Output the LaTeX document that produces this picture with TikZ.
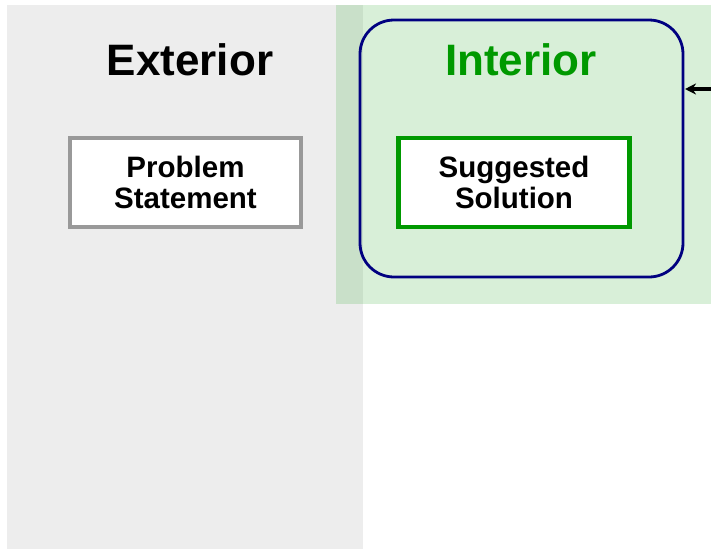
\documentclass[tikz,border=0pt]{standalone}
\usepackage{fontspec}
\setmainfont{Liberation Sans}
\usetikzlibrary{arrows.meta}
\definecolor{extgray}{RGB}{237,237,237}
\definecolor{intgreen}{RGB}{77,182,77}
\definecolor{framenavy}{RGB}{0,0,128}
\definecolor{solgreen}{RGB}{0,153,0}
\definecolor{probgray}{RGB}{153,153,153}
\tikzset{
  region title/.style={font=\fontsize{44}{44}\selectfont\bfseries, anchor=center},
  itembox/.style={draw, line width=4.5pt, fill=white, minimum width=231pt, minimum height=89pt,
    align=center, font=\fontsize{29.5}{31}\selectfont\bfseries, inner sep=0pt},
  feedarrow/.style={draw=black, line width=3.5pt, -{Stealth[length=11pt, width=11pt]}},
}
\begin{document}
\begin{tikzpicture}[x=1pt, y=-1pt]
  \useasboundingbox (0,0) rectangle (711,549);
  % exterior band
  \fill[extgray] (7,5) rectangle (363,549);
  % interior band, translucent over the exterior
  \fill[intgreen, fill opacity=0.22] (336,5) rectangle (711,304);
  % interior frame
  \draw[framenavy, line width=2.8pt, rounded corners=34pt] (360,20) rectangle (683,277);
  \coordinate (frameE) at (683,89);
  \coordinate (feed) at (712,89);
  \draw[feedarrow] (feed) -- ([xshift=2pt]frameE);
  % titles
  \node[region title] (ext) at (190,60) {Exterior};
  \node[region title, text=solgreen] (int) at (521,60) {Interior};
  % boxes
  \node[itembox, draw=probgray] (prob) at (185.5,182.5) {Problem\\Statement};
  \node[itembox, draw=solgreen] (sol) at (514,182.5) {Suggested\\Solution};
\end{tikzpicture}
\end{document}
